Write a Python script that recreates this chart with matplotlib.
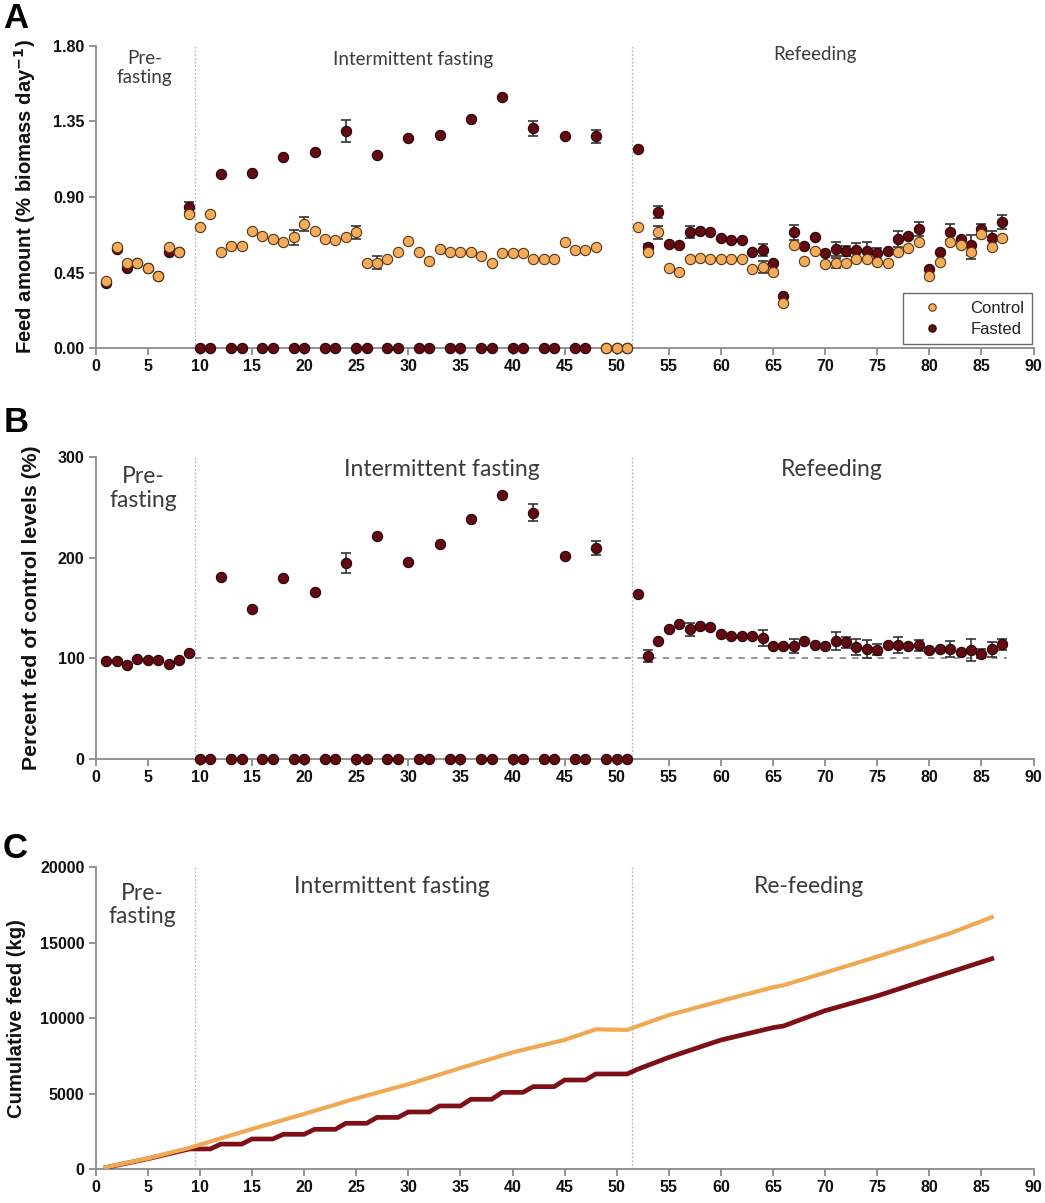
import numpy as np
import matplotlib
matplotlib.use("Agg")
import matplotlib.pyplot as plt

# ---------------- data ----------------
days = np.arange(1, 88)

# Panel A: feed amount (% biomass day-1)
control_feed = [0.40, 0.60, 0.51, 0.51, 0.48, 0.43, 0.60, 0.57, 0.80, 0.72,
                0.80, 0.57, 0.61, 0.61, 0.70, 0.67, 0.65, 0.63, 0.66, 0.74,
                0.70, 0.65, 0.645, 0.66, 0.69, 0.51, 0.51, 0.53, 0.57, 0.64,
                0.57, 0.52, 0.59, 0.57, 0.57, 0.57, 0.55, 0.505, 0.565, 0.565,
                0.565, 0.53, 0.53, 0.53, 0.63, 0.585, 0.585, 0.605, 0.0, 0.0,
                0.0, 0.72, 0.57, 0.69, 0.476, 0.456, 0.53, 0.535, 0.53, 0.53,
                0.53, 0.53, 0.47, 0.485, 0.454, 0.27, 0.615, 0.52, 0.58, 0.50,
                0.505, 0.505, 0.53, 0.53, 0.515, 0.51, 0.57, 0.595, 0.635, 0.43,
                0.515, 0.635, 0.615, 0.57, 0.68, 0.60, 0.655]
fasted_feed = [0.39, 0.59, 0.48, 0.51, 0.48, 0.43, 0.57, 0.57, 0.84, 0.0,
               0.0, 1.035, 0.0, 0.0, 1.04, 0.0, 0.0, 1.14, 0.0, 0.0,
               1.165, 0.0, 0.0, 1.295, 0.0, 0.0, 1.148, 0.0, 0.0, 1.25,
               0.0, 0.0, 1.27, 0.0, 0.0, 1.366, 0.0, 0.0, 1.497, 0.0,
               0.0, 1.31, 0.0, 0.0, 1.265, 0.0, 0.0, 1.26, 0.0, 0.0,
               0.0, 1.186, 0.60, 0.81, 0.62, 0.615, 0.69, 0.70, 0.69, 0.655,
               0.645, 0.645, 0.57, 0.585, 0.51, 0.31, 0.69, 0.61, 0.66, 0.565,
               0.59, 0.58, 0.585, 0.58, 0.565, 0.58, 0.65, 0.67, 0.71, 0.47,
               0.57, 0.69, 0.65, 0.615, 0.71, 0.655, 0.75]
control_feed_err = {19: 0.045, 20: 0.04, 25: 0.04, 27: 0.04, 54: 0.04, 64: 0.035,
                    71: 0.03, 84: 0.038}
fasted_feed_err = {9: 0.03, 24: 0.065, 42: 0.045, 48: 0.04, 53: 0.02, 54: 0.037,
                   57: 0.035, 64: 0.037, 67: 0.045, 71: 0.042, 72: 0.03, 73: 0.04,
                   74: 0.05, 75: 0.033, 77: 0.045, 79: 0.04, 82: 0.047, 84: 0.06,
                   85: 0.03, 86: 0.045, 87: 0.04}

# Panel B: percent fed of control levels (%)
percent_fed = [97.5, 97.8, 93.5, 99, 98, 98.5, 94, 98.5, 105.7, 0,
               0, 181, 0, 0, 149, 0, 0, 180, 0, 0,
               166, 0, 0, 195, 0, 0, 222, 0, 0, 196,
               0, 0, 214, 0, 0, 238.5, 0, 0, 263, 0,
               0, 245, 0, 0, 201.6, 0, 0, 209.5, 0, 0,
               0, 164, 102.6, 117, 129.5, 134, 129, 132, 131, 124,
               122.5, 122.5, 122.5, 120, 112.6, 112.6, 112.6, 117.5, 113.6, 112,
               117, 116, 111, 109, 108.6, 113, 113, 112, 113, 108.6,
               109.6, 109.6, 106, 108, 104.6, 109, 114]
percent_err = {24: 10, 42: 8.5, 48: 6.8, 53: 6, 57: 6.6, 64: 8, 67: 7, 71: 9,
               72: 5.3, 73: 8, 74: 9, 75: 5.3, 77: 8, 79: 5.3, 82: 7.8, 84: 11,
               85: 4.5, 86: 7.5, 87: 5.8}

# Panel C: cumulative feed (kg)
control_cum_days = [1, 5, 9, 12, 15, 20, 25, 30, 35, 40, 45, 48, 51, 55, 60,
                    65, 66, 70, 75, 80, 82, 86]
control_cum_kg = [120, 700, 1400, 2030, 2650, 3650, 4680, 5620, 6690, 7730,
                  8560, 9260, 9220, 10200, 11140, 12045, 12180, 13015, 14075,
                  15180, 15625, 16690]
fasted_cum_days = [1, 5, 9, 11, 12, 14, 15, 17, 18, 20, 21, 23, 24, 26, 27, 29,
                   30, 32, 33, 35, 36, 38, 39, 41, 42, 44, 45, 47, 48, 51, 52,
                   55, 60, 65, 66, 70, 75, 80, 86]
fasted_cum_kg = [100, 680, 1330, 1330, 1650, 1650, 1990, 1990, 2300, 2300, 2630,
                 2630, 3030, 3030, 3420, 3420, 3780, 3780, 4180, 4180, 4620, 4620,
                 5080, 5080, 5460, 5460, 5900, 5900, 6300, 6300, 6610, 7400, 8550,
                 9370, 9480, 10495, 11470, 12600, 13940]

phase_edges = [9.5, 51.5]

# ---------------- styling ----------------
C_CTRL = "#F3AC5C"
C_CTRL_EDGE = "#5a3510"
C_FAST = "#620A12"
C_FAST_EDGE = "#2a0306"
L_CTRL = "#F0A952"
L_FAST = "#7E1015"
AX_COL = "#8a8a8a"
TXT_COL = "#3b3b3b"
TICK_FONT = "Liberation Sans"
PHASE_FONT = "Lato"

fig = plt.figure(figsize=(10.45, 12.03), dpi=100)

ax_left = 95.7 / 1045
ax_w = (1033.5 - 95.7) / 1045


def rect(top_px, bottom_px):
    return [ax_left, 1 - bottom_px / 1203, ax_w, (bottom_px - top_px) / 1203]


axA = fig.add_axes(rect(45.7, 348.3))
axB = fig.add_axes(rect(457.3, 759.0))
axC = fig.add_axes(rect(867.3, 1169.0))


def style_axes(ax, ylim, yticks, yticklabels):
    ax.set_xlim(0, 90)
    ax.set_ylim(*ylim)
    for s in ["top", "right"]:
        ax.spines[s].set_visible(False)
    for s in ["left", "bottom"]:
        ax.spines[s].set_color(AX_COL)
        ax.spines[s].set_linewidth(1.3)
    ax.set_xticks(np.arange(0, 91, 5))
    ax.set_yticks(yticks)
    ax.set_yticklabels(yticklabels)
    ax.tick_params(axis="both", colors=AX_COL, labelcolor="#111111",
                   length=5, width=1.3, pad=3)
    for lab in ax.get_xticklabels() + ax.get_yticklabels():
        lab.set_fontfamily(TICK_FONT)
        lab.set_fontweight("bold")
        lab.set_fontsize(11.5)
    for x in phase_edges:
        ax.axvline(x, ymin=0, ymax=1, color="#b5b5b5", lw=0.9,
                   linestyle=(0, (1.5, 1.5)), zorder=1)


def add_errors(ax, err, values, color="#333333"):
    ds = list(err.keys())
    ys = [values[d - 1] for d in ds]
    es = [err[d] for d in ds]
    ax.errorbar(ds, ys, yerr=es, fmt="none", ecolor=color, elinewidth=1.2,
                capsize=3.5, capthick=1.2, zorder=2, clip_on=False)


def phase_labels(ax, items, size):
    for text, x, y in items:
        ax.text(x, y, text, ha="center", va="center", fontsize=size,
                family=PHASE_FONT, color=TXT_COL, linespacing=1.15)


def ylabel(ax, text, size, xpos):
    ax.set_ylabel(text, fontsize=size, fontweight="bold", family=TICK_FONT,
                  color="#111111")
    ax.yaxis.set_label_coords(xpos, 0.5)


# ---------------- Panel A ----------------
style_axes(axA, (0, 1.8), [0, 0.45, 0.9, 1.35, 1.8],
           ["0.00", "0.45", "0.90", "1.35", "1.80"])
add_errors(axA, fasted_feed_err, fasted_feed)
add_errors(axA, control_feed_err, control_feed)
axA.plot(days, fasted_feed, "o", ms=7.4, mfc=C_FAST, mec=C_FAST_EDGE, mew=0.8,
         zorder=3, clip_on=False, label="Fasted")
axA.plot(days, control_feed, "o", ms=7.4, mfc=C_CTRL, mec=C_CTRL_EDGE, mew=0.8,
         zorder=4, clip_on=False, label="Control")
ylabel(axA, "Feed amount (% biomass day$^{\\mathbf{-1}}$)", 14.6, -0.0615)
phase_labels(axA, [("Pre-\nfasting", 4.7, 1.665),
                   ("Intermittent fasting", 30.5, 1.715),
                   ("Refeeding", 69.0, 1.745)], 13.5)
handles, labels = axA.get_legend_handles_labels()
leg = axA.legend(handles[::-1], labels[::-1], loc="lower right",
                 bbox_to_anchor=(0.9985, 0.014), borderaxespad=0,
                 frameon=True, fancybox=False, edgecolor="#444444",
                 markerscale=0.72, handlelength=2.6, handletextpad=1.0,
                 labelspacing=0.35, borderpad=0.45,
                 prop={"family": TICK_FONT, "size": 12})
leg.get_frame().set_linewidth(1.0)
for t in leg.get_texts():
    t.set_color("#222222")
fig.text(3 / 1045, 1 - 18 / 1203, "A", fontsize=25, fontweight="bold",
         family=TICK_FONT, va="center", ha="left")

# ---------------- Panel B ----------------
style_axes(axB, (0, 300), [0, 100, 200, 300], ["0", "100", "200", "300"])
axB.plot([9.5, 87.5], [100, 100], color="#8c8c8c", lw=1.3,
         linestyle=(0, (3.5, 3.5)), zorder=1)
add_errors(axB, percent_err, percent_fed)
axB.plot(days, percent_fed, "o", ms=7.4, mfc=C_FAST, mec=C_FAST_EDGE, mew=0.8,
         zorder=3, clip_on=False)
ylabel(axB, "Percent fed of control levels (%)", 15.3, -0.058)
phase_labels(axB, [("Pre-\nfasting", 4.6, 269),
                   ("Intermittent fasting", 33.2, 288),
                   ("Refeeding", 70.6, 288)], 16.5)
fig.text(4 / 1045, 1 - 423 / 1203, "B", fontsize=25, fontweight="bold",
         family=TICK_FONT, va="center", ha="left")

# ---------------- Panel C ----------------
style_axes(axC, (0, 20000), [0, 5000, 10000, 15000, 20000],
           ["0", "5000", "10000", "15000", "20000"])
axC.plot(fasted_cum_days, fasted_cum_kg, color=L_FAST, lw=3.4,
         solid_joinstyle="miter", zorder=3)
axC.plot(control_cum_days, control_cum_kg, color=L_CTRL, lw=3.0, zorder=4)
ylabel(axC, "Cumulative feed (kg)", 14.6, -0.0745)
phase_labels(axC, [("Pre-\nfasting", 4.5, 17500),
                   ("Intermittent fasting", 28.4, 18760),
                   ("Re-feeding", 68.5, 18760)], 16.5)
fig.text(3 / 1045, 1 - 849 / 1203, "C", fontsize=25, fontweight="bold",
         family=TICK_FONT, va="center", ha="left")

fig.savefig("out.png", dpi=100)
